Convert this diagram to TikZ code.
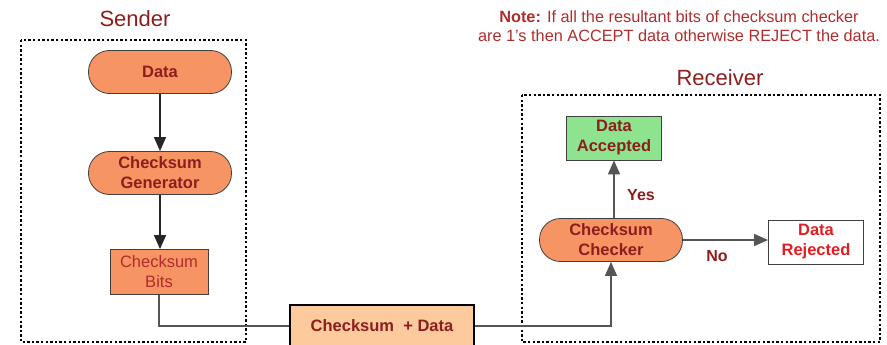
\documentclass[tikz,border=0pt]{standalone}
\usepackage{fontspec}
\setmainfont{Liberation Sans}
\usetikzlibrary{arrows.meta}

\definecolor{darkred}{RGB}{140,30,30}
\definecolor{notered}{RGB}{175,45,45}
\definecolor{rejectred}{RGB}{225,30,35}
\definecolor{orangefill}{RGB}{247,148,100}
\definecolor{peachfill}{RGB}{252,202,156}
\definecolor{greenfill}{RGB}{142,228,142}
\definecolor{edgegray}{RGB}{85,85,85}

\tikzset{
  term/.style={draw=black!75, fill=orangefill, rounded corners=21pt, line width=0.8pt,
    minimum width=143pt, minimum height=43pt, align=center, text=darkred,
    font=\bfseries\fontsize{16.5}{20}\selectfont},
  boxnode/.style={draw=black!75, line width=0.8pt, minimum width=95pt, minimum height=44pt,
    align=center, text=darkred, font=\bfseries\fontsize{16.5}{20}\selectfont},
  group/.style={draw=black, line width=2.6pt, dash pattern=on 2.4pt off 2.2pt},
  flow/.style={draw=edgegray, line width=1.3pt, -{Triangle[length=14pt,width=12pt]}},
  title/.style={text=darkred, font=\fontsize{22}{24}\selectfont},
  answer/.style={text=darkred, font=\bfseries\fontsize{16}{18}\selectfont}
}

\begin{document}
\begin{tikzpicture}[x=1pt, y=-1pt]
    \useasboundingbox (0,0) rectangle (887,345);

    % the two sides
    \draw[group] (21,40) rectangle (246,342);
    \draw[group] (522,95) rectangle (880,342);
    \node[title] (sendtitle) at (135,19) {Sender};
    \node[title] (recvtitle) at (720,78) {Receiver};

    % note at the top right
    \node[text=notered, align=center, font=\fontsize{16.3}{19}\selectfont] (note) at (679,26)
        {\textbf{Note:} If all the resultant bits of checksum checker\\
         are 1's then ACCEPT data otherwise REJECT the data.};

    % sender
    \node[term] (data) at (160,72) {Data};
    \node[term] (gen) at (160,173) {Checksum\\Generator};
    \node[boxnode, fill=orangefill, minimum width=98pt, minimum height=45pt,
          font=\fontsize{16.5}{20}\selectfont, text=notered] (bits) at (159,272) {Checksum\\Bits};

    % sent frame
    \node[draw=black, line width=2.5pt, fill=peachfill, minimum width=184pt, minimum height=42pt,
          text=darkred, font=\bfseries\fontsize{16.5}{18}\selectfont] (frame) at (382,326)
        {Checksum ~+ Data};

    % receiver
    \node[term] (check) at (611,240) {Checksum\\Checker};
    \node[boxnode, fill=greenfill] (accept) at (614,138) {Data\\Accepted};
    \node[boxnode, fill=white, text=rejectred] (reject) at (816,242) {Data\\Rejected};

    % connectors
    \draw[flow, draw=black!85] (data) -- (gen);
    \draw[flow, draw=black!85] (gen.south) -- (gen.south |- bits.north);
    \draw[edgegray, line width=1.3pt] (bits.south) |- (frame.west);
    \draw[flow] (frame.east) -| (check.south);
    \draw[flow] (check.north -| accept.south) -- (accept.south);
    \draw[flow] (check.east) -- (check.east -| reject.west);

    \node[answer] (yes) at (641,195) {Yes};
    \node[answer] (no) at (717,256) {No};
\end{tikzpicture}
\end{document}
